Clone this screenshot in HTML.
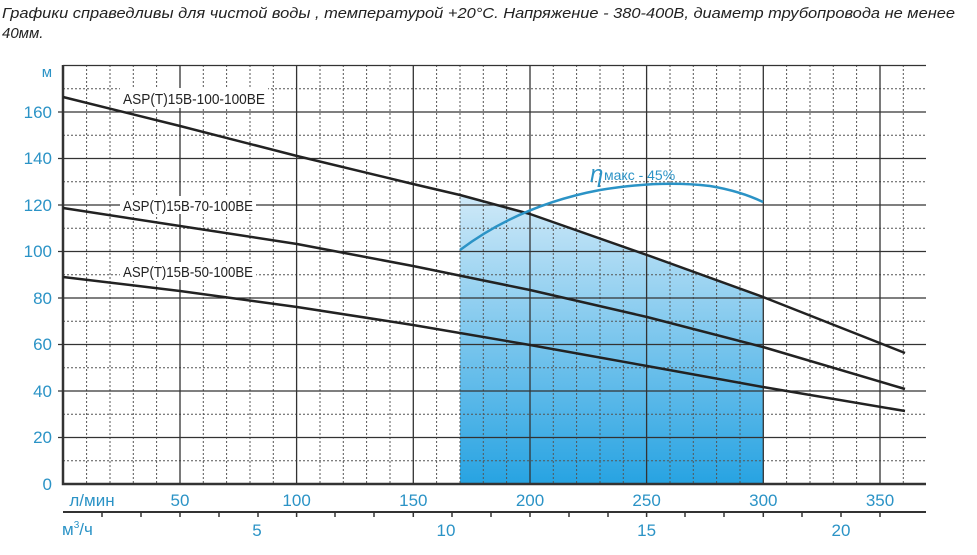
<!DOCTYPE html>
<html><head><meta charset="utf-8"><style>
body{margin:0;background:#fff;width:977px;height:555px;overflow:hidden}
svg{display:block}
</style></head><body>
<svg width="977" height="555" xmlns="http://www.w3.org/2000/svg" font-family="Liberation Sans, sans-serif">
<defs>
<linearGradient id="g" x1="0" y1="0" x2="0" y2="1">
<stop offset="0" stop-color="#cfe9f8"/>
<stop offset="1" stop-color="#27a3e2"/>
</linearGradient>
</defs>
<text x="2" y="18" font-size="15" font-style="italic" fill="#222" textLength="953" lengthAdjust="spacingAndGlyphs">Графики справедливы для чистой воды , температурой  +20°С. Напряжение - 380-400В,  диаметр  трубопровода не менее</text>
<text x="2" y="38" font-size="15" font-style="italic" fill="#222">40мм.</text>
<!-- fill -->
<path d="M460,484 L460,195 L530,214 L647,255 L763,297 L763,484 Z" fill="url(#g)"/>
<!-- minor grid -->
<g stroke="#555" stroke-width="1" stroke-dasharray="2,2">
<path d="M86.6,65V484M110,65V484M133.3,65V484M156.6,65V484M203.3,65V484M226.6,65V484M250,65V484M273.3,65V484M320,65V484M343.3,65V484M366.6,65V484M390,65V484M436.6,65V484M460,65V484M483.3,65V484M506.6,65V484M553.3,65V484M576.6,65V484M600,65V484M623.3,65V484M670,65V484M693.3,65V484M716.6,65V484M740,65V484M786.6,65V484M810,65V484M833.3,65V484M856.6,65V484M903.3,65V484"/>
<path d="M63,88.8H926M63,135.3H926M63,181.8H926M63,228.3H926M63,274.8H926M63,321.3H926M63,367.8H926M63,414.3H926M63,460.8H926"/>
</g>
<!-- major grid -->
<g stroke="#333" stroke-width="1.3">
<path d="M180,65V484M296.6,65V484M413.3,65V484M530,65V484M646.6,65V484M763.3,65V484M880,65V484"/>
<path d="M58,112H926M58,158.5H926M58,205H926M58,251.5H926M58,298H926M58,344.5H926M58,391H926M58,437.5H926"/>
<path d="M63,65.5H926"/>
</g>
<path d="M63,65V484H926" fill="none" stroke="#333" stroke-width="2.5"/>
<!-- bottom axis -->
<path d="M63,512H926" stroke="#333" stroke-width="2"/>
<g stroke="#333" stroke-width="1.5">
<path d="M102,512v5M141,512v5M180,512v5M219,512v5M258,512v5M296.6,512v5M335,512v5M374,512v5M413.3,512v5M452,512v5M491,512v5M530,512v5M569,512v5M608,512v5M646.6,512v5M685,512v5M724,512v5M763.3,512v5M802,512v5M841,512v5M880,512v5"/>
</g>
<!-- labels -->
<g fill="#2b93c6" font-size="17" text-anchor="end">
<text x="52" y="77" font-size="15">м</text>
<text x="52" y="118">160</text><text x="52" y="164">140</text><text x="52" y="211">120</text>
<text x="52" y="257">100</text><text x="52" y="304">80</text><text x="52" y="350">60</text>
<text x="52" y="397">40</text><text x="52" y="443">20</text><text x="52" y="490">0</text>
</g>
<g fill="#2b93c6" font-size="17" text-anchor="middle">
<text x="92" y="506">л/мин</text>
<text x="180" y="506">50</text><text x="296.6" y="506">100</text><text x="413.3" y="506">150</text>
<text x="530" y="506">200</text><text x="646.6" y="506">250</text><text x="763.3" y="506">300</text><text x="880" y="506">350</text>
<text x="257" y="536">5</text><text x="446" y="536">10</text><text x="646.6" y="536">15</text><text x="841" y="536">20</text>
</g>
<text x="62" y="535" fill="#2b93c6" font-size="17">м<tspan font-size="10" dy="-7">3</tspan><tspan dy="7">/ч</tspan></text>
<!-- curves -->
<g fill="none" stroke="#222" stroke-width="2.5" stroke-linejoin="round">
<path d="M63,97 L180,126 L297,156 L413,184 L460,195 L530,214 L647,255 L763,297 L905,353"/>
<path d="M63,208 L180,226 L297,244 L413,266 L530,290 L647,317 L763,347 L905,389"/>
<path d="M63,277 L180,291 L297,307 L413,325 L530,345 L647,366 L763,387 L905,411"/>
</g>
<path d="M460,250 Q520,205 600,190 Q660,180 710,186 Q740,191 763,202" fill="none" stroke="#2b93c6" stroke-width="2.5"/>
<text x="590" y="182" fill="#2b93c6" font-size="24" font-style="italic">η</text>
<text x="604" y="180" fill="#2b93c6" font-size="14">макс - 45%</text>
<!-- curve labels -->
<g font-size="15" fill="#222">
<rect x="120" y="88" width="148" height="20" fill="#fff"/>
<text x="123" y="104" textLength="142" lengthAdjust="spacingAndGlyphs">ASP(T)15B-100-100BE</text>
<rect x="120" y="196" width="136" height="18" fill="#fff"/>
<text x="123" y="211" textLength="130" lengthAdjust="spacingAndGlyphs">ASP(T)15B-70-100BE</text>
<rect x="120" y="262" width="136" height="18" fill="#fff"/>
<text x="123" y="277" textLength="130" lengthAdjust="spacingAndGlyphs">ASP(T)15B-50-100BE</text>
</g>
</svg>
</body></html>
